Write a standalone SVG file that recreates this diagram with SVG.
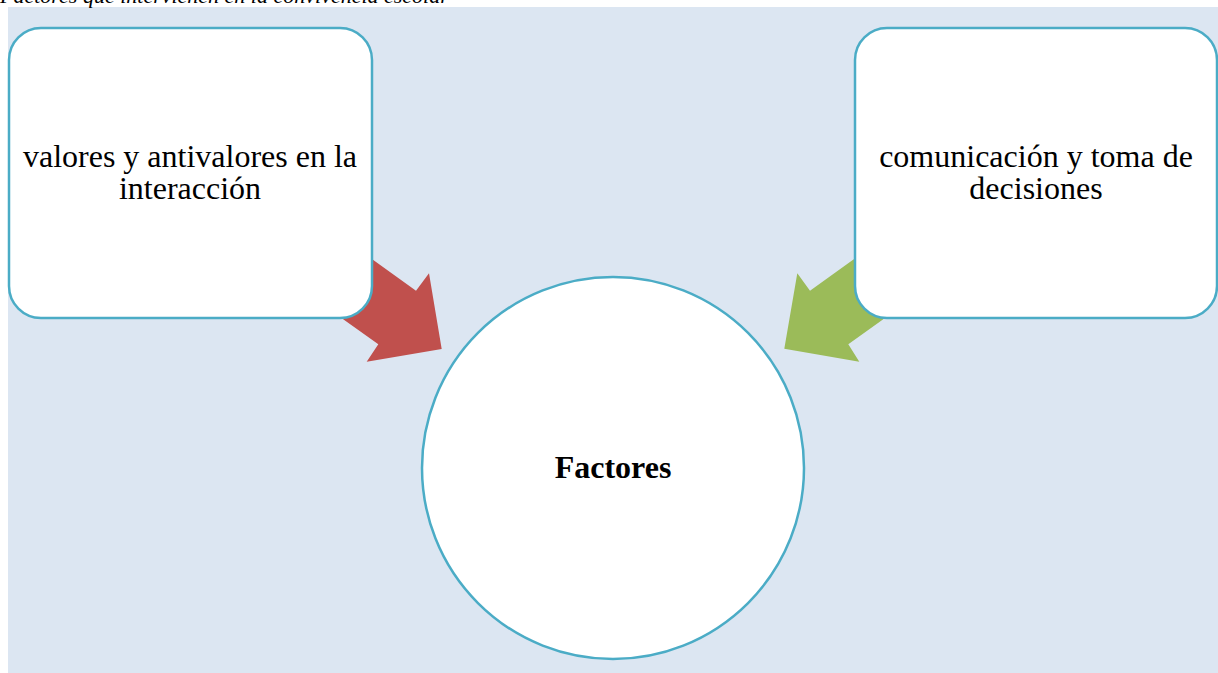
<svg xmlns="http://www.w3.org/2000/svg" width="1218" height="673" viewBox="0 0 1218 673">
<style>
.box{fill:#FFFFFF;stroke:#4BACC6;stroke-width:2.5}
.t{font-family:"Liberation Serif","Times New Roman",serif;font-size:32px;fill:#000;text-anchor:middle}
</style>
<rect x="0" y="0" width="1218" height="673" fill="#FFFFFF"/>
<rect x="8" y="7" width="1210" height="666" fill="#DCE6F2"/>
<text x="0" y="3" font-family="Liberation Serif, serif" font-size="22" font-style="italic" fill="#000">Factores que intervienen en la convivencia escolar</text>
<g id="connectors">
<polygon fill="#C0504D" points="351,244 416,290.7 429,273.3 441.7,349 366.7,361.7 378.3,344.3 313,297.7"/>
<polygon fill="#9BBB59" points="875,244 810,290.7 797.3,273.3 784.3,348.7 859.3,361.7 848.3,344.3 913.3,297.7"/>
</g>
<g id="node-valores">
<rect class="box" x="9" y="28" width="363" height="290" rx="32" ry="32"/>
<text class="t" x="190" y="167">valores y antivalores en la</text>
<text class="t" x="190" y="199">interacción</text>
</g>
<g id="node-comunicacion">
<rect class="box" x="855" y="28" width="362" height="290" rx="32" ry="32"/>
<text class="t" x="1036" y="167">comunicación y toma de</text>
<text class="t" x="1036" y="199">decisiones</text>
</g>
<g id="node-factores">
<circle class="box" cx="613" cy="468" r="191"/>
<text class="t" x="613" y="478" font-weight="bold">Factores</text>
</g>
</svg>
